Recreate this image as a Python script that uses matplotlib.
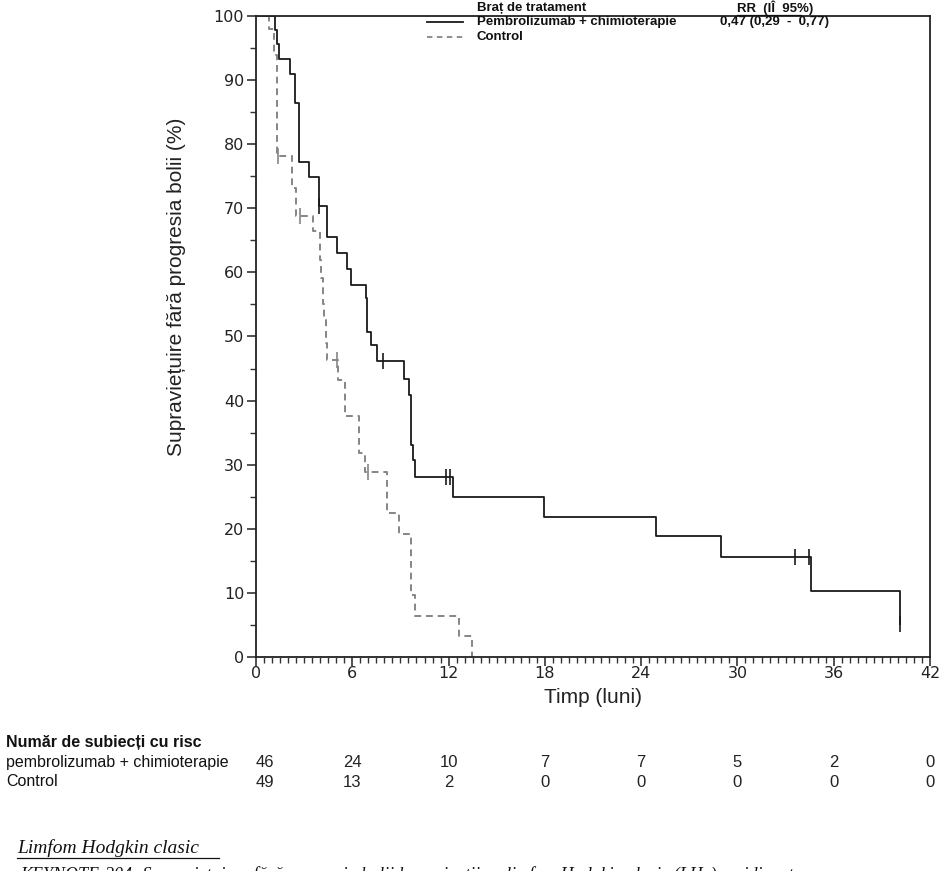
import matplotlib.pyplot as plt
from matplotlib.ticker import MultipleLocator
from matplotlib.transforms import blended_transform_factory

# curba Kaplan-Meier (timp in luni, supravietuire in %)
pembro_t = [0, 1.18, 1.3, 1.45, 2.1, 2.45, 2.65, 2.7, 3.3, 3.9, 4.45, 5.07, 5.65, 5.92,
            6.83, 6.93, 7.15, 7.56, 9.25, 9.55, 9.65, 9.8, 9.9, 12.25, 17.97, 24.9,
            29.0, 34.6, 40.1]
pembro_s = [100, 97.8, 95.7, 93.3, 91.0, 86.5, 79.6, 77.3, 74.9, 70.3, 65.5, 63.1, 60.6,
            58.1, 56.0, 50.7, 48.6, 46.1, 43.4, 40.9, 33.0, 30.7, 28.1, 25.0, 21.9, 18.8,
            15.6, 10.3, 5.2]
pembro_cens_t = [3.95, 7.9, 11.87, 12.09, 33.6, 34.45, 40.15]
pembro_cens_s = [70.3, 46.1, 28.1, 28.1, 15.6, 15.6, 5.2]

control_t = [0, 0.83, 1.1, 1.32, 2.22, 2.52, 3.57, 3.98, 4.05, 4.15, 4.25, 4.35, 4.45,
             5.1, 5.55, 6.44, 6.8, 8.14, 8.93, 9.64, 9.9, 12.65, 13.48]
control_s = [100, 97.9, 93.9, 78.1, 73.1, 68.8, 66.4, 62.0, 59.2, 55.0, 52.6, 49.0, 46.3,
             43.2, 37.6, 31.8, 28.9, 22.4, 19.2, 9.7, 6.4, 3.2, 0]
control_cens_t = [1.35, 2.75, 5.05, 6.96]
control_cens_s = [78.1, 68.8, 46.3, 28.9]

risk_t = [0, 6, 12, 18, 24, 30, 36, 42]
risk_pembro = [46, 24, 10, 7, 7, 5, 2, 0]
risk_control = [49, 13, 2, 0, 0, 0, 0, 0]

black = '#1a1a1a'
gray = '#858585'
W, H = 949, 871


def fy(py):
    # pixel de sus -> fractie din figura
    return 1 - py / H


fig = plt.figure(figsize=(W / 100, H / 100), dpi=100)
ax = fig.add_axes([256 / W, fy(657), 674 / W, 641 / H])

ax.step(pembro_t, pembro_s, where='post', color=black, lw=1.3)
ax.plot(pembro_cens_t, pembro_cens_s, ls='none', marker='|', ms=11, mew=1.2, color=black)
ax.step(control_t, control_s, where='post', color=gray, lw=1.4, dashes=(3.5, 2.5))
ax.plot(control_cens_t, control_cens_s, ls='none', marker='|', ms=11, mew=1.2, color=gray)

ax.set_xlim(0, 42)
ax.set_ylim(0, 100)
ax.xaxis.set_major_locator(MultipleLocator(6))
ax.xaxis.set_minor_locator(MultipleLocator(0.5))
ax.yaxis.set_major_locator(MultipleLocator(10))
ax.yaxis.set_minor_locator(MultipleLocator(5))
ax.tick_params(which='major', direction='out', length=6.5, width=1.2, labelsize=11.5,
               color='#333333', labelcolor='#222222', pad=2)
ax.tick_params(axis='x', which='major', pad=0)
ax.tick_params(which='minor', direction='out', length=4.5, width=1.0, color='#333333')
for s in ax.spines.values():
    s.set_linewidth(1.3)
    s.set_color('#222222')

fig.text(177 / W, fy(287), 'Supraviețuire fără progresia bolii (%)', rotation=90,
         ha='center', va='center', fontsize=15, family='Liberation Sans', color='#222222')
fig.text(593 / W, fy(697), 'Timp (luni)', ha='center', va='center',
         fontsize=15, family='Liberation Sans', color='#222222')

# legenda desenata manual
narrow = ['Liberation Sans Narrow', 'Liberation Sans']
lg = dict(fontsize=9.5, weight='bold', family=narrow, va='center', color='#111111')
fig.add_artist(plt.Line2D([427 / W, 463 / W], [fy(22), fy(22)], color=black, lw=1.3))
fig.add_artist(plt.Line2D([427 / W, 463 / W], [fy(37), fy(37)], color=gray, lw=1.3,
                          dashes=(3, 2.5)))
fig.text(477 / W, fy(8), 'Braț de tratament', **lg)
fig.text(477 / W, fy(22), 'Pembrolizumab + chimioterapie', **lg)
fig.text(477 / W, fy(37), 'Control', **lg)
fig.text(737 / W, fy(8), 'RR  (IÎ  95%)', **lg)
fig.add_artist(plt.Line2D([737 / W, 801 / W], [fy(15), fy(15)], color='#111111', lw=0.9))
fig.text(720 / W, fy(22), '0,47 (0,29  -  0,77)', **lg)

# tabel cu numarul de subiecti la risc
fig.text(6 / W, fy(742), 'Număr de subiecți cu risc', fontsize=11.5, weight='bold',
         family='Liberation Sans', va='center', color='#111111')
fig.text(6 / W, fy(762), 'pembrolizumab + chimioterapie', fontsize=11.5,
         family='Liberation Sans', va='center', color='#111111')
fig.text(6 / W, fy(781), 'Control', fontsize=11.5, family='Liberation Sans',
         va='center', color='#111111')
tr = blended_transform_factory(ax.transData, fig.transFigure)
for t, a, b in zip(risk_t, risk_pembro, risk_control):
    x = t + 0.55 if t == 0 else t
    ax.text(x, fy(762), str(a), transform=tr, ha='center', va='center', clip_on=False,
            fontsize=12, family=narrow, color='#222222')
    ax.text(x, fy(782), str(b), transform=tr, ha='center', va='center', clip_on=False,
            fontsize=12, family=narrow, color='#222222')

fig.text(17 / W, fy(848), 'Limfom Hodgkin clasic', fontsize=14, style='italic',
         family='Liberation Serif', va='center', color='#111111')
fig.add_artist(plt.Line2D([17 / W, 219 / W], [fy(858), fy(858)], color='#111111', lw=0.9))
fig.text(20 / W, fy(875),
         'KEYNOTE-204: Supraviețuirea fără progresia bolii la pacienții cu limfom Hodgkin clasic (LHc) recidivant',
         fontsize=13, style='italic', family='Liberation Serif', va='center', color='#111111')

fig.savefig('out.png', dpi=100)
